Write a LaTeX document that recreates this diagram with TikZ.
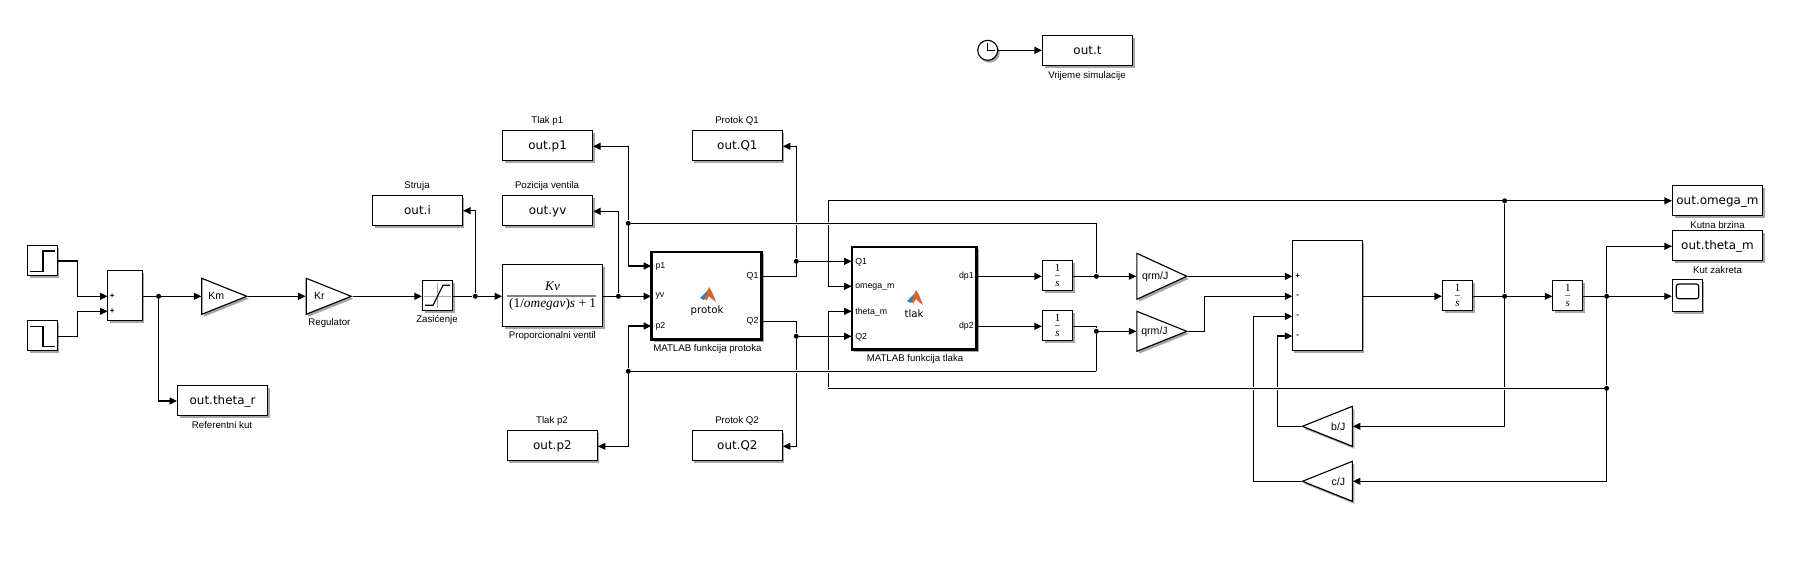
\documentclass[tikz,border=0pt]{standalone}
\usepackage{fontspec}
\setmainfont{Liberation Sans}
\newfontfamily\blockfont{DejaVu Sans}
\newfontfamily\mathfont{Liberation Serif}
\usetikzlibrary{arrows.meta,shapes.geometric,shadows}
\definecolor{mlblue}{HTML}{2F7FB5}
\definecolor{mlorange}{HTML}{D9622B}
\tikzset{
	blockshadow/.style={drop shadow={shadow xshift=0.04cm,shadow yshift=-0.05cm,fill=black,opacity=0.35}},
	block/.style={draw,fill=white,line width=0.65pt,inner sep=0pt,blockshadow},
	outbox/.style={block,minimum width=1.8cm,minimum height=0.6cm,text height=5.5pt,text depth=0.5pt,font=\blockfont\fontsize{6.8}{8}\selectfont},
	srcbox/.style={block,minimum width=0.6cm,minimum height=0.6cm},
	intbox/.style={block,minimum width=0.6cm,minimum height=0.6cm,align=center,font=\mathfont\fontsize{6.2}{8.5}\selectfont},
	fcnbox/.style={block,line width=1.5pt},
	gain/.style={draw,fill=white,line width=0.65pt,inner sep=0pt,isosceles triangle,isosceles triangle stretches,blockshadow,font=\fontsize{6}{7}\selectfont},
	dot/.style={circle,fill=black,inner sep=0pt,minimum size=0.1cm},
	blockcap/.style={font=\fontsize{5.5}{6}\selectfont,inner sep=0pt},
	port/.style={font=\fontsize{5}{6}\selectfont,inner sep=0pt},
	sign/.style={font=\bfseries\fontsize{4.5}{5}\selectfont,inner sep=0pt},
	wire/.style={line width=0.65pt},
	hop/.style={preaction={draw=white,line width=1.4pt}},
	sig/.style={wire,-{Triangle[length=0.15cm,width=0.14cm]}},
}
\newcommand{\oneovers}{1\\\textit{s}}
\newcommand{\mlicon}[1]{
	\begin{scope}[shift={(#1)}]
		\fill[mlblue] (-8,3) -- (-3,-2) -- (0,-5) -- (-1,1) -- (-4,5) -- cycle;
		\fill[mlorange] (-3,3) -- (1,-8) -- (4,-3) -- (8,7) -- (4,4) -- (1,1) -- (-2,6) -- cycle;
	\end{scope}
}
\begin{document}
\begin{tikzpicture}[x=0.02cm,y=-0.02cm]
	\useasboundingbox (0,0) rectangle (1819,576);

	% izvori i prvi sumator
	\node[srcbox] (step1) at (42.5,260.5) {};
	\node[srcbox] (step2) at (42.5,335.5) {};
	\draw[wire] (30,271.7) -- (43,271.7) -- (43,251) -- (55,251);
	\draw[wire] (30,326.3) -- (43,326.3) -- (43,346.3) -- (55,346.3);
	\node[block,minimum width=0.7cm,minimum height=1cm] (sumref) at (125,295.3) {};
	\coordinate (sumrefa) at (107.5,296.3);
	\coordinate (sumrefb) at (107.5,311.3);
	\node[sign] (signa) at (112.3,296.3) {+};
	\node[sign] (signb) at (112.3,311.3) {+};
	\node[gain,minimum height=0.9cm,minimum width=0.72cm,anchor=apex] (Km) at (248.3,296.3) {\hspace{0.03cm}Km\hspace{0.25cm}};
	\node[gain,minimum height=0.9cm,minimum width=0.72cm,anchor=apex] (Kr) at (352.7,296.3) {\hspace{0.03cm}Kr\hspace{0.25cm}};
	\node[blockcap] (Kcap) at (329.4,323.3) {Regulator};
	\node[srcbox] (sat) at (437.5,295.3) {};
	\draw[gray!70,line width=0.4pt] (424,296.3) -- (451,296.3) (437.7,283) -- (437.7,308);
	\draw[wire] (425,305.3) -- (433,305.3) -- (443,285.3) -- (450,285.3);
	\node[blockcap] (satcap) at (437,320.3) {Zasićenje};
	\node[block,minimum width=2cm,minimum height=1.24cm,align=center,font=\mathfont\fontsize{7.6}{9.3}\selectfont] (valve) at (552.6,295.9) {\textit{Kv}\\(1/\textit{omegav})\textit{s} + 1};
	\draw[gray,line width=0.8pt] (506.5,296) -- (596.3,296);
	\node[blockcap] (valvecap) at (552.4,336.3) {Proporcionalni ventil};

	% izlazi
	\foreach \n/\t/\x/\y in {thetar/theta\_r/222.6/400.5, oi/i/417.5/210.3, oyv/yv/547.6/210.3, op1/p1/547.6/145.3, oQ1/Q1/737.4/145.3, op2/p2/552.4/445.3, oQ2/Q2/737.4/445.3, ot/t/1087.5/50.3, oomega/omega\_m/1717.5/200.3, otheta/theta\_m/1717.5/245.3}{
		\node[outbox] (\n) at (\x,\y) {out.\t};
	}
	\foreach \n/\t/\x/\y in {c1/Referentni kut/222/425.3, c2/Struja/417/186.3, c3/Pozicija ventila/547/186.3, c4/Tlak p1/547.3/121, c5/Protok Q1/737/121, c6/Tlak p2/552/421, c7/Protok Q2/737/421, c8/Vrijeme simulacije/1087/75.7, c9/Kutna brzina/1717.5/225.3, c10/Kut zakreta/1717.5/270.3}{
		\node[blockcap] (\n) at (\x,\y) {\t};
	}

	% MATLAB funkcije
	\node[fcnbox,minimum width=2.2cm,minimum height=1.76cm] (protok) at (706.7,295.8) {};
	\mlicon{708,295}
	\node[font=\blockfont\fontsize{5.8}{7}\selectfont,inner sep=0pt] (protoktxt) at (707,310.3) {protok};
	\node[blockcap] (protokcap) at (707.4,349.3) {MATLAB funkcija protoka};
	\foreach \n/\t/\y in {pp1/p1/266, pyv/yv/296.3, pp2/p2/326}{
		\coordinate (\n) at (651.2,\y);
		\node[port,anchor=west] (\n t) at (655.2,\y) {\t};
	}
	\foreach \n/\t/\y in {pQ1/Q1/276.3, pQ2/Q2/321.3}{
		\coordinate (\n) at (762.3,\y);
		\node[port,anchor=east] (\n t) at (758.8,\y) {\t};
	}
	\node[fcnbox,minimum width=2.5cm,minimum height=2.06cm] (tlak) at (914.3,298.3) {};
	\mlicon{915,298}
	\node[font=\blockfont\fontsize{5.8}{7}\selectfont,inner sep=0pt] (tlaktxt) at (914,313.3) {tlak};
	\node[blockcap] (tlakcap) at (915,359.3) {MATLAB funkcija tlaka};
	\foreach \n/\t/\y in {tQ1/Q1/261.3, tom/omega\_m/286.3, tth/theta\_m/311.3, tQ2/Q2/336.3}{
		\coordinate (\n) at (851.7,\y);
		\node[port,anchor=west] (\n t) at (855,\y+0.5) {\t};
	}
	\foreach \n/\t/\y in {tdp1/dp1/276.3, tdp2/dp2/326.3}{
		\coordinate (\n) at (977,\y);
		\node[port,anchor=east] (\n t) at (974,\y) {\t};
	}

	% integratori i pojacala
	\foreach \n/\x/\y in {int1/1057.5/275.3, int2/1057.5/325.3, int3/1457.5/295.3, int4/1567.8/295.3}{
		\node[intbox] (\n) at (\x,\y) {\oneovers};
		\draw[gray,line width=0.6pt] (\x-2.6,\y+0.5) -- (\x+2.6,\y+0.5);
	}
	\node[gain,minimum height=1cm,minimum width=0.92cm,anchor=apex] (qrma) at (1188.3,276.3) {\hspace{0.04cm}qrm/J\hspace{0.2cm}};
	\node[gain,minimum height=1cm,minimum width=0.8cm,anchor=apex] (qrmb) at (1188.3,331.3) {\hspace{0.04cm}qrm/J\hspace{0.2cm}};
	\node[block,minimum width=1.4cm,minimum height=2.2cm] (sumq) at (1327.4,295.3) {};
	\foreach \n/\s/\y in {sqa/+/276.3, sqb/-/296.3, sqc/-/316.3, sqd/-/336}{
		\coordinate (\n) at (1292.3,\y);
		\node[sign] (\n t) at (1297.7,\y) {\s};
	}
	\node[gain,shape border rotate=180,minimum height=1cm,minimum width=0.8cm,anchor=apex] (bJ) at (1300.9,426.3) {b/J\hspace{0.08cm}};
	\node[gain,shape border rotate=180,minimum height=1cm,minimum width=0.8cm,anchor=apex] (cJ) at (1300.9,481.3) {c/J\hspace{0.08cm}};

	% osciloskop i sat
	\node[block,minimum width=0.6cm,minimum height=0.64cm] (scope) at (1687.3,295.3) {};
	\draw[line width=0.65pt,rounded corners=0.05cm] (1676.3,284) rectangle (1698.8,298.7);
	\node[circle,draw,fill=white,line width=0.65pt,inner sep=0pt,minimum size=0.4cm,blockshadow] (clock) at (987.7,50.3) {};
	\draw[wire] (987.7,43.3) -- (987.7,50.3) -- (995,50.3);

	% cvorovi
	\foreach \n/\x/\y in {d1/158.6/296.3, d2/475.3/296.3, d3/618.4/296.3, d4/628.3/223.3, d5/628.3/371.3, d6/796.3/261.3, d7/796.3/336.3, d8/1096.4/276.3, d9/1096.4/331.3, d10/1504.6/200.8, d11/1504.6/296.3, d12/1606.6/296.3, d13/1606.6/388.3}{
		\node[dot] (\n) at (\x,\y) {};
	}
	\coordinate (c4) at (1096.4,223.3);
	\coordinate (c5) at (1096.4,371.3);
	\coordinate (c13) at (828.4,388.3);

	% veze lijevo
	\draw[sig] (step1.east |- 0,261) -- (77.5,261) |- (sumrefa);
	\draw[sig] (step2.east |- 0,336.3) -- (77.5,336.3) |- (sumrefb);
	\draw[wire] (sumref.east |- d1) -- (d1);
	\draw[sig] (d1) -- (Km.lower side |- d1);
	\draw[sig] (d1) |- (thetar.west |- 0,401);
	\draw[sig] (Km.apex) -- (Kr.lower side |- Km.apex);
	\draw[sig] (Kr.apex) -- (sat.west |- Kr.apex);
	\draw[wire] (sat.east |- d2) -- (d2);
	\draw[sig] (d2) -- (valve.west |- d2);
	\draw[sig] (d2) |- (oi.east |- 0,210.7);
	\draw[wire] (valve.east |- d3) -- (d3);
	\draw[sig] (d3) -- (pyv);
	\draw[sig] (d3) |- (oyv.east |- 0,211.3);
	\draw[sig] (d4) |- (op1.east |- 0,146.3);
	\draw[sig] (d4) |- (pp1);
	\draw[sig] (d5) |- (pp2);
	\draw[sig] (d5) |- (op2.east |- 0,446.3);

	% veze srednje
	\draw[wire] (pQ1) -| (d6);
	\draw[sig] (d6) |- (oQ1.east |- 0,146.3);
	\draw[sig] (d6) -- (tQ1);
	\draw[wire] (pQ2) -| (d7);
	\draw[sig] (d7) |- (oQ2.east |- 0,446.3);
	\draw[sig] (d7) -- (tQ2);
	\draw[sig] (tdp1) -- (int1.west |- tdp1);
	\draw[sig] (tdp2) -- (int2.west |- tdp2);
	\draw[wire] (int1.east |- d8) -- (d8);
	\draw[wire] (int2.east |- 0,326.3) -- (1096.4,326.3) -- (d9);
	\draw[sig] (d8) -- (qrma.lower side |- d8);
	\draw[sig] (d9) -- (qrmb.lower side |- d9);
	\draw[wire] (d8) -- (c4);
	\draw[wire] (d9) -- (c5);
	\draw[sig] (d10) -| (828.4,286.3) -- (tom);
	\draw[wire] (c13) -- (828.4,311.3);
	\draw[sig] (828.4,311.3) -- (tth);

	% veze desno
	\draw[sig] (qrma.apex) -- (sqa);
	\draw[sig] (qrmb.apex) -- (1204.5,331.3) |- (sqb);
	\draw[sig] (cJ.apex) -| (1253.5,316.3) -- (sqc);
	\draw[sig] (bJ.apex) -| (1277.6,336) -- (sqd);
	\draw[sig] (sumq.east |- d11) -- (int3.west |- d11);
	\draw[wire] (int3.east |- d11) -- (d11);
	\draw[sig] (d11) -- (int4.west |- d11);
	\draw[wire] (int4.east |- d12) -- (d12);
	\draw[sig] (d12) -- (scope.west |- d12);
	\draw[sig] (d10) -- (oomega.west |- d10);
	\draw[sig] (d12) |- (otheta.west |- 0,246.3);
	\draw[wire] (d11) -- (d10);
	\draw[sig] (d11) |- (bJ.lower side);
	\draw[sig] (d13) |- (cJ.lower side);
	\draw[wire] (d12) -- (d13);
	\draw[sig] (clock) -- (ot);

	% prijelazi
	\draw[wire,hop] (c4) -- (d4);
	\draw[wire,hop] (c5) -- (d5);
	\draw[wire,hop] (d13) -- (c13);
\end{tikzpicture}
\end{document}
